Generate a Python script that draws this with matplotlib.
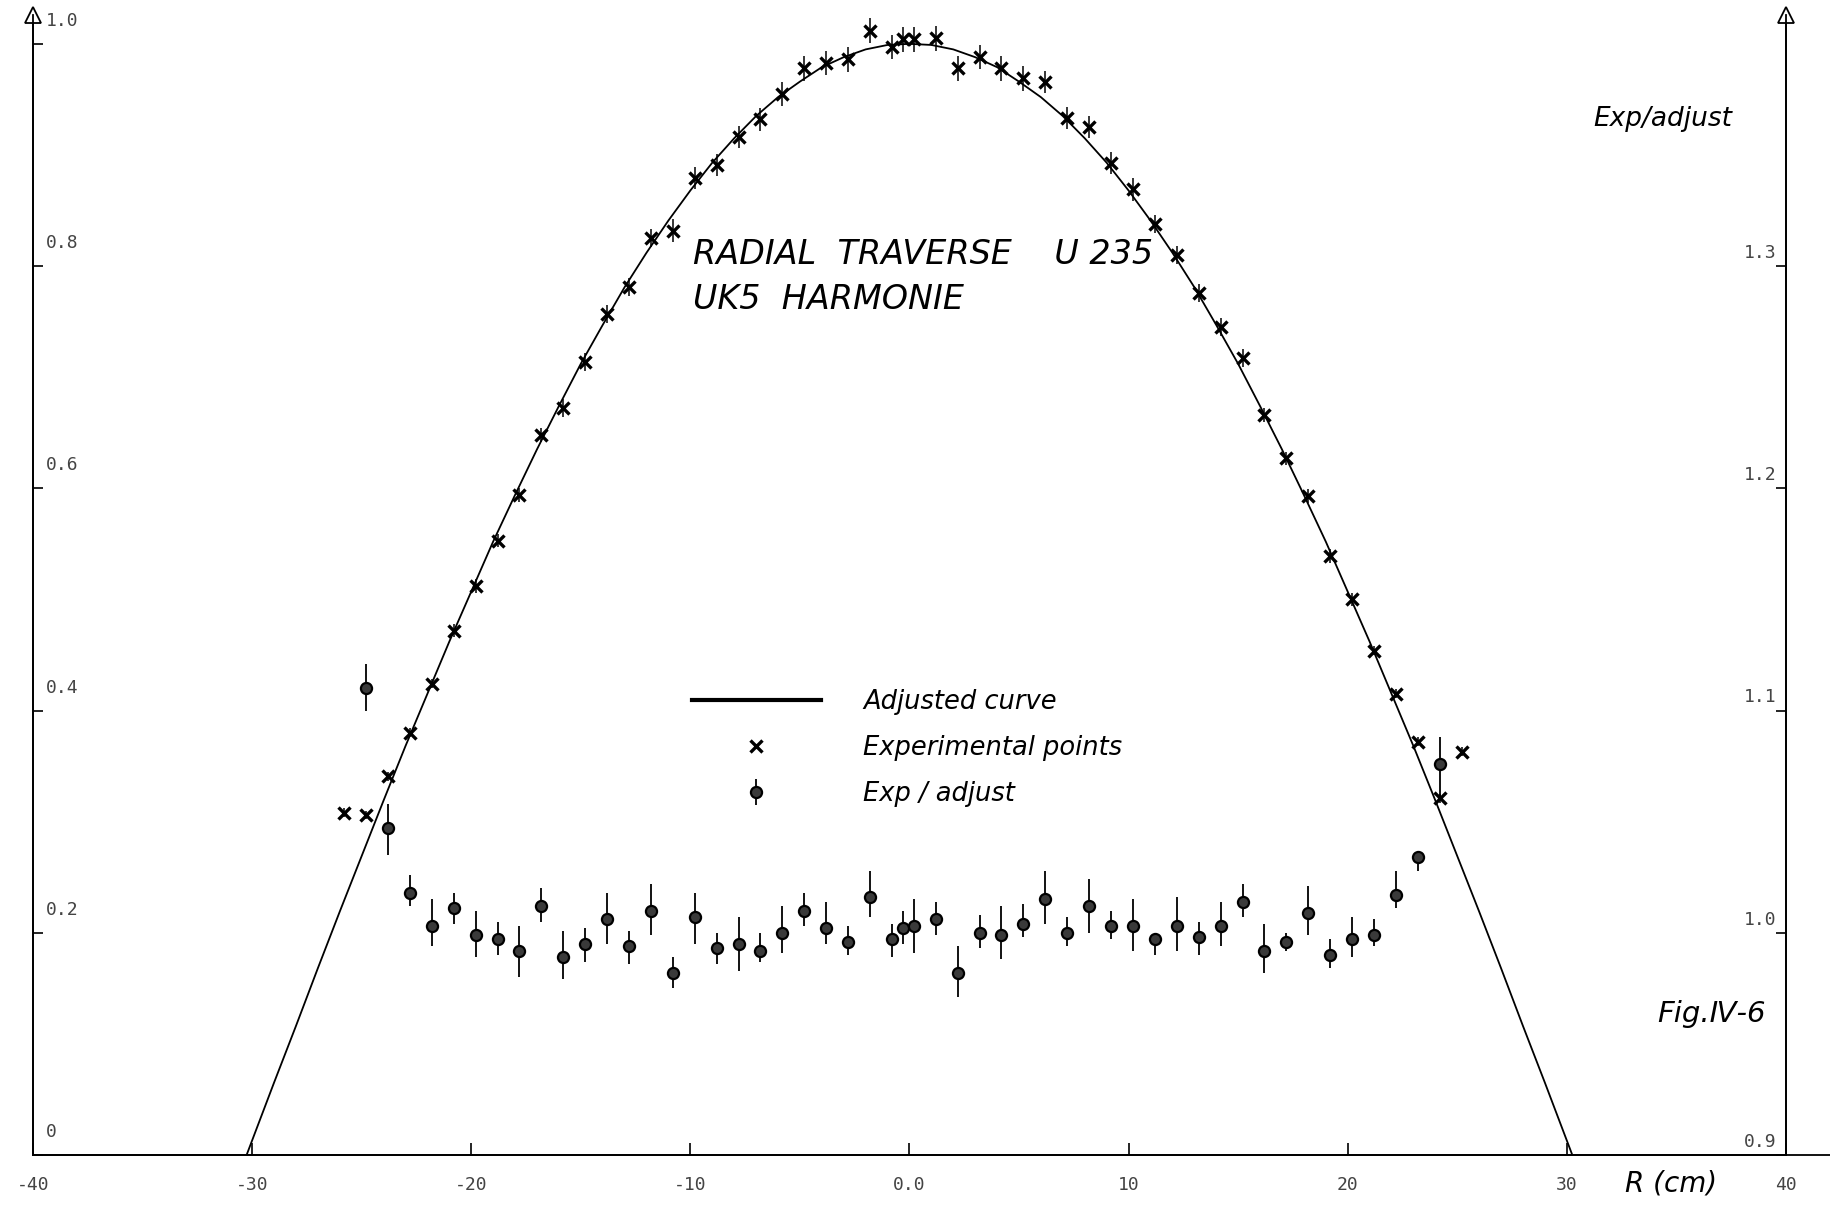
import matplotlib
matplotlib.use("Agg")
import numpy as np
import matplotlib.pyplot as plt

# adjusted curve (1 cm steps)
curve_r = [-30.25, -30, -29, -28, -27, -26, -25, -24, -23, -22, -21, -20, -19, -18, -17, -16,
           -15, -14, -13, -12, -11, -10, -9, -8, -7, -6, -5, -4, -3, -2, -1, 0,
           1, 2, 3, 4, 5, 6, 7, 8, 9, 10, 11, 12, 13, 14, 15, 16, 17, 18, 19, 20,
           21, 22, 23, 24, 25, 26, 27, 28, 29, 30, 30.25]
curve_y = [0.0, 0.013, 0.065, 0.116, 0.168, 0.219, 0.269, 0.319, 0.368, 0.415, 0.462, 0.507,
           0.552, 0.594, 0.635, 0.674, 0.712, 0.747, 0.781, 0.812, 0.841, 0.868, 0.893, 0.915,
           0.935, 0.952, 0.966, 0.979, 0.988, 0.995, 0.999, 1.0,
           0.999, 0.995, 0.988, 0.979, 0.966, 0.952, 0.935, 0.915, 0.893, 0.868, 0.841, 0.812,
           0.781, 0.747, 0.712, 0.674, 0.635, 0.594, 0.552, 0.507, 0.462, 0.415, 0.368, 0.319,
           0.269, 0.219, 0.168, 0.116, 0.065, 0.013, 0.0]

# experimental points (left scale)
exp_r = [-25.8, -24.8, -23.8, -22.8, -21.8, -20.8, -19.8, -18.8, -17.8, -16.8, -15.8, -14.8,
         -13.8, -12.8, -11.8, -10.8, -9.8, -8.8, -7.8, -6.8, -5.8, -4.8, -3.8, -2.8, -1.8,
         -0.8, -0.3, 0.2, 1.2, 2.2, 3.2, 4.2, 5.2, 6.2, 7.2, 8.2, 9.2, 10.2, 11.2, 12.2, 13.2,
         14.2, 15.2, 16.2, 17.2, 18.2, 19.2, 20.2, 21.2, 22.2, 23.2, 24.2, 25.2]
exp_y = [0.308, 0.306, 0.341, 0.380, 0.424, 0.472, 0.512, 0.553, 0.594, 0.648, 0.672, 0.714,
         0.757, 0.781, 0.825, 0.832, 0.879, 0.891, 0.916, 0.932, 0.955, 0.978, 0.983, 0.986,
         1.012, 0.997, 1.004, 1.004, 1.005, 0.978, 0.988, 0.978, 0.969, 0.966, 0.933, 0.925,
         0.893, 0.869, 0.838, 0.810, 0.776, 0.745, 0.717, 0.666, 0.627, 0.593, 0.539, 0.500,
         0.454, 0.415, 0.372, 0.321, 0.363]
exp_err = [0.004, 0.004, 0.004, 0.004, 0.004, 0.006, 0.006, 0.006, 0.006, 0.006, 0.008, 0.008,
           0.008, 0.008, 0.008, 0.010, 0.010, 0.010, 0.010, 0.010, 0.011, 0.011, 0.011, 0.011,
           0.011, 0.011, 0.011, 0.011, 0.011, 0.011, 0.011, 0.011, 0.011, 0.010, 0.010, 0.010,
           0.010, 0.010, 0.008, 0.008, 0.008, 0.008, 0.008, 0.006, 0.006, 0.006, 0.006, 0.006,
           0.004, 0.004, 0.004, 0.004, 0.004]

# exp / adjusted ratio (right scale) with bar ends
ratio_r = [-24.8, -23.8, -22.8, -21.8, -20.8, -19.8, -18.8, -17.8, -16.8, -15.8, -14.8, -13.8,
           -12.8, -11.8, -10.8, -9.8, -8.8, -7.8, -6.8, -5.8, -4.8, -3.8, -2.8, -1.8, -0.8,
           -0.3, 0.2, 1.2, 2.2, 3.2, 4.2, 5.2, 6.2, 7.2, 8.2, 9.2, 10.2, 11.2, 12.2, 13.2, 14.2,
           15.2, 16.2, 17.2, 18.2, 19.2, 20.2, 21.2, 22.2, 23.2, 24.2]
ratio_y = [1.110, 1.047, 1.018, 1.003, 1.011, 0.999, 0.997, 0.992, 1.012, 0.989, 0.995, 1.006,
           0.994, 1.010, 0.982, 1.007, 0.993, 0.995, 0.992, 1.000, 1.010, 1.002, 0.996, 1.016,
           0.997, 1.002, 1.003, 1.006, 0.982, 1.000, 0.999, 1.004, 1.015, 1.000, 1.012, 1.003,
           1.003, 0.997, 1.003, 0.998, 1.003, 1.014, 0.992, 0.996, 1.009, 0.990, 0.997, 0.999,
           1.017, 1.034, 1.076]
ratio_top = [1.121, 1.058, 1.026, 1.015, 1.018, 1.010, 1.005, 1.003, 1.020, 1.001, 1.002, 1.018,
             1.001, 1.022, 0.989, 1.018, 1.000, 1.007, 1.000, 1.012, 1.018, 1.014, 1.003, 1.028,
             1.004, 1.010, 1.015, 1.014, 0.994, 1.008, 1.012, 1.013, 1.028, 1.007, 1.024, 1.010,
             1.015, 1.000, 1.016, 1.005, 1.014, 1.022, 1.004, 1.000, 1.021, 0.997, 1.007, 1.006,
             1.028, 1.036, 1.088]
ratio_bot = [1.100, 1.035, 1.012, 0.994, 1.004, 0.989, 0.990, 0.980, 1.005, 0.979, 0.987, 0.995,
             0.986, 0.999, 0.975, 0.995, 0.986, 0.983, 0.987, 0.991, 1.003, 0.995, 0.990, 1.007,
             0.989, 0.995, 0.991, 0.999, 0.971, 0.993, 0.988, 0.998, 1.004, 0.994, 1.000, 0.997,
             0.992, 0.990, 0.992, 0.990, 0.994, 1.007, 0.982, 0.992, 0.999, 0.984, 0.989, 0.994,
             1.011, 1.028, 1.061]

x_ticks = [-40, -30, -20, -10, 0, 10, 20, 30, 40]
x_labels = ["-40", "-30", "-20", "-10", "0.0", "10", "20", "30", "40"]
left_ticks = [0, 0.2, 0.4, 0.6, 0.8, 1.0]
left_labels = ["0", "0.2", "0.4", "0.6", "0.8", "1.0"]
right_ticks = [0.9, 1.0, 1.1, 1.2, 1.3]
right_labels = ["0.9", "1.0", "1.1", "1.2", "1.3"]

mono = "DejaVu Sans Mono"
hand = "DejaVu Sans"
tick_col = "#444444"

fig = plt.figure(figsize=(18.31, 12.06), dpi=100)
ax = fig.add_axes([0.018, 0.0423, 0.9574, 0.9453])
ax2 = ax.twinx()

ytop = 1.026
ax.set_xlim(-40, 40)
ax.set_ylim(0, ytop)
ax2.set_ylim(0.9, 0.9 + ytop / 2)

for a in (ax, ax2):
    a.spines["top"].set_visible(False)
    for s in a.spines.values():
        s.set_linewidth(1.3)

# curve + experimental points
curve_line, = ax.plot(curve_r, curve_y, color="black", lw=1.3)
ax.errorbar(exp_r, exp_y, yerr=exp_err, fmt="none", ecolor="black", elinewidth=1.1)
exp_pts, = ax.plot(exp_r, exp_y, ls="none", marker="x", ms=8, mew=2.4, color="black")

# ratio points on the right scale
r_y = np.array(ratio_y)
yerr = [r_y - np.array(ratio_bot), np.array(ratio_top) - r_y]
ratio_eb = ax2.errorbar(ratio_r, ratio_y, yerr=yerr, fmt="o", ms=8, mfc="#3a3a3a",
                        mec="black", mew=1.6, ecolor="black", elinewidth=1.3, capsize=0)

# x axis
ax.set_xticks(x_ticks)
ax.set_xticklabels(x_labels, fontfamily=mono, fontsize=13, color=tick_col)
ax.tick_params(axis="x", direction="in", length=9, width=1.2, pad=15)

# y ticks drawn inward, labels written just above the ticks
ax.set_yticks(left_ticks)
ax.set_yticklabels([])
ax.tick_params(axis="y", direction="in", length=7, width=1.2)
ax2.set_yticks(right_ticks)
ax2.set_yticklabels([])
ax2.tick_params(axis="y", direction="in", length=7, width=1.2)

for v, lab in zip(left_ticks, left_labels):
    ax.annotate(lab, xy=(0, v), xycoords=("axes fraction", "data"), xytext=(9, 10),
                textcoords="offset points", ha="left", va="bottom",
                fontfamily=mono, fontsize=13, color=tick_col)
for v, lab in zip(right_ticks, right_labels):
    ax2.annotate(lab, xy=(1, v), xycoords=("axes fraction", "data"), xytext=(-7, 3),
                 textcoords="offset points", ha="right", va="bottom",
                 fontfamily=mono, fontsize=13, color=tick_col)

# open arrow heads on both vertical axes, bottom axis runs out to the edge
for xa in (0, 1):
    ax.plot([xa], [1.0], marker="^", ms=11, mfc="white", mec="black", mew=1.3,
            transform=ax.transAxes, clip_on=False, zorder=5)
ax.plot([1, 1.03], [0, 0], color="black", lw=1.3, transform=ax.transAxes, clip_on=False)

# lettering
ax.text(-9.9, 0.810, "RADIAL  TRAVERSE    U 235", fontfamily=hand, style="italic",
        fontsize=24, ha="left", va="center")
ax.text(-9.9, 0.770, "UK5  HARMONIE", fontfamily=hand, style="italic",
        fontsize=24, ha="left", va="center")
ax.text(34.4, 0.932, "Exp/adjust", fontfamily=hand, style="italic", fontsize=19,
        ha="center", va="center")
ax.text(36.6, 0.127, "Fig.\u2163-6", fontfamily=hand, style="italic", fontsize=21,
        ha="center", va="center")
ax.text(34.75, -0.026, "R (cm)", fontfamily=hand, style="italic", fontsize=20,
        ha="center", va="center", clip_on=False)

leg_line = plt.Line2D([], [], color="black", lw=3)
ax2.legend([leg_line, exp_pts, ratio_eb],
           ["Adjusted curve", "Experimental points", "Exp / adjust"],
           loc="upper left", bbox_to_anchor=(0.376, 0.409), frameon=False,
           handlelength=5.0, handletextpad=1.65, labelspacing=0.78, borderpad=0,
           borderaxespad=0, prop={"family": hand, "style": "italic", "size": 18.5})

fig.savefig("out.png", dpi=100)
